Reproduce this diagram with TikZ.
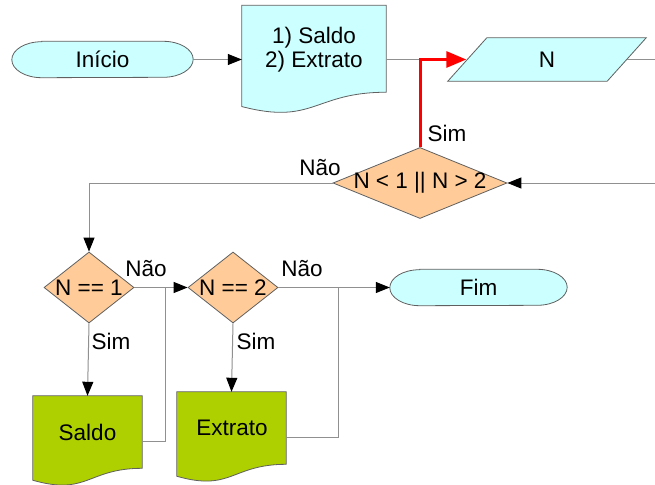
\documentclass[tikz,border=0pt]{standalone}
\usepackage{fontspec}
\setmainfont{Liberation Sans}
\usetikzlibrary{shapes.geometric,arrows.meta,calc}
\definecolor{cyanfill}{HTML}{CCFFFF}
\definecolor{orangefill}{HTML}{FFCC99}
\definecolor{greenfill}{HTML}{AECF00}
\definecolor{edgecol}{HTML}{606060}
\definecolor{wirecol}{HTML}{909090}
\definecolor{redline}{HTML}{FF0000}
\newcommand\docshape[2]{%
  \draw[draw=edgecol, fill=#2, line width=0.8pt] (#1.north west) -- (#1.north east)
    -- ($(#1.north east)!0.802!(#1.south east)$)
    .. controls ($(#1.north)!0.802!(#1.south)$) and ($(#1.north)!1.108!(#1.south)$)
    .. ($(#1.north west)!0.934!(#1.south west)$) -- cycle;}
\newcommand\termshape[1]{%
  \draw[draw=edgecol, fill=cyanfill, line width=0.8pt]
    ([xshift=30pt]#1.north west) -- ([xshift=-30pt]#1.north east)
    arc[start angle=90, end angle=-90, x radius=30pt, y radius=18pt]
    -- ([xshift=30pt]#1.south west)
    arc[start angle=270, end angle=90, x radius=30pt, y radius=18pt] -- cycle;}
\begin{document}
\begin{tikzpicture}[x=1pt,y=-1pt,
  font=\fontsize{22.5}{24}\selectfont,
  termarea/.style={rectangle, minimum height=36pt, inner sep=0pt},
  dec/.style={diamond, draw=edgecol, fill=orangefill, line width=0.8pt, inner sep=0pt, aspect=1},
  docarea/.style={rectangle, inner sep=0pt},
  txt/.style={inner sep=0pt, align=center},
  lbl/.style={inner sep=0pt},
  wire/.style={draw=wirecol, line width=1pt},
  arr/.style={-{Triangle[length=14pt,width=11pt,color=black]}},
  redarr/.style={draw=redline, line width=3pt, -{Triangle[length=20pt,width=16pt,color=redline]}}
]
\fill[white] (0,0) rectangle (655,484);
\useasboundingbox (0,0) rectangle (655,484);

% top row
\node[termarea, minimum width=181pt] (inicio) at (102.5,59.5) {};
\termshape{inicio}
\node[txt] (iniciotxt) at (inicio.center) {Início};
\node[docarea, minimum width=144pt, minimum height=108pt] (menu) at (314,59.5) {};
\docshape{menu}{cyanfill}
\node[txt] (menutxt) at (314,50) {1) Saldo\\2) Extrato};

\node[docarea, minimum width=159pt, minimum height=43pt] (N) at (547,59.5) {};
\draw[draw=edgecol, fill=cyanfill, line width=0.8pt]
  ([xshift=19.5pt]N.north west) -- ([xshift=19.5pt]N.north east)
  -- ([xshift=-19.5pt]N.south east) -- ([xshift=-19.5pt]N.south west) -- cycle;
\node[txt] (Ntxt) at (N.center) {N};

% decisions
\node[dec, minimum width=174pt, minimum height=71pt] (d1) at (420,183) {\makebox[0pt]{N < 1 || N > 2}};
\node[dec, minimum width=90pt, minimum height=71pt] (d2) at (89,287.5) {\makebox[0pt]{N == 1}};
\node[dec, minimum width=90pt, minimum height=71pt] (d3) at (233,287.5) {\makebox[0pt]{N == 2}};

\node[termarea, minimum width=177pt] (fim) at (478.5,287.5) {};
\termshape{fim}
\node[txt] (fimtxt) at (fim.center) {Fim};

% outputs
\node[docarea, minimum width=109pt, minimum height=90pt] (saldo) at (87.5,441) {};
\docshape{saldo}{greenfill}
\node[txt] (saldotxt) at (87.5,432) {Saldo};
\node[docarea, minimum width=109pt, minimum height=90pt] (extrato) at (231.5,437) {};
\docshape{extrato}{greenfill}
\node[txt] (extratotxt) at (232,428) {Extrato};

% coordinates
\coordinate (j1) at (420,59.5);
\coordinate (outA) at (655,59.5);
\coordinate (outB) at (655,183);
\coordinate (j2) at (165,287.5);
\coordinate (j3) at (338,287.5);

% connectors
\draw[wire, arr] (inicio.east) -- (menu.west);
\draw[wire] (menu.east) -- (j1);
\draw[redarr] (d1.north) -- (j1) -- ([xshift=-1pt]N.west);
\draw[wire] (N.east) -- (outA);
\draw[wire, arr] (outB) -- (d1.east);
\draw[wire, arr] (d1.west) -| (d2.north);
\draw[wire, arr] (d2.east) -- (d3.west);
\draw[wire, arr] (d2.south) -- (saldo.north);
\draw[wire, arr] (d3.east) -- (fim.west);
\draw[wire, arr] (d3.south) -- (extrato.north);
\draw[wire] (saldo.east) -| (j2);
\draw[wire] (extrato.east) -| (j3);

% labels
\node[lbl] (l1) at (447,133) {Sim};
\node[lbl] (l2) at (320,168) {Não};
\node[lbl] (l3) at (146,269) {Não};
\node[lbl] (l4) at (302,269) {Não};
\node[lbl] (l5) at (111,341) {Sim};
\node[lbl] (l6) at (256,341) {Sim};
\end{tikzpicture}
\end{document}
